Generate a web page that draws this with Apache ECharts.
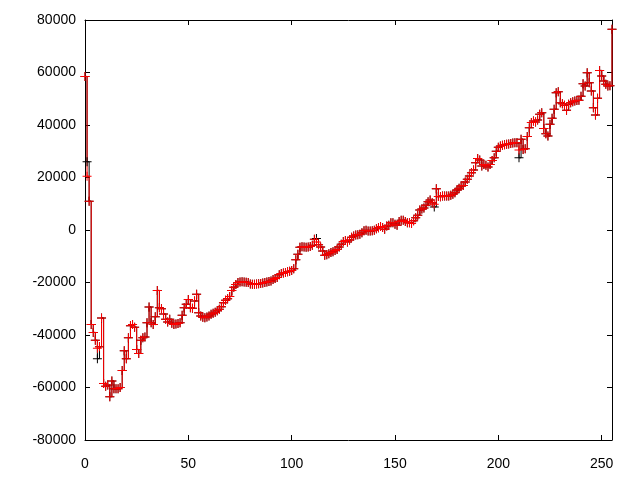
<!DOCTYPE html>
<html>
<head>
<meta charset="utf-8">
<script src="https://cdn.jsdelivr.net/npm/echarts@6/dist/echarts.min.js"></script>
<style>
  html, body { margin: 0; padding: 0; background: #fff; }
  #chart { width: 640px; height: 480px; }
</style>
</head>
<body>
<div id="chart"></div>
<script>
// values, index = x position (0..255)
const blackValues = [
  58500, 26000, 11000, -36000, -39000, -42000, -49000, -44500, -33500, -58500, -59500, -59000, -63500, -57500, -60500, -60500,
  -60500, -60000, -53500, -46000, -49000, -41000, -36500, -36000, -37000, -45500, -47000, -42000, -41000, -40800, -35300, -29300,
  -35300, -36000, -33000, -23000, -29600, -30000, -32000, -34000, -35000, -34000, -35500, -36000, -35800, -35600, -35300, -32500,
  -29600, -28300, -26500, -29600, -29800, -27000, -24500, -31500, -32800, -33200, -33400, -33100, -32800, -32100, -31700, -31300,
  -30800, -30200, -29200, -27700, -26800, -26200, -25300, -23000, -21800, -20800, -20000, -19800, -19700, -19800, -19900, -20000,
  -20600, -20700, -20700, -20600, -20500, -20400, -20200, -20000, -19800, -19600, -19400, -18900, -18500, -18100, -17000, -16600,
  -16400, -16200, -15900, -15700, -15400, -14800, -11300, -9200, -6600, -6400, -6500, -6600, -6500, -6300, -5800, -3500,
  -3200, -5600, -6500, -8000, -9600, -9400, -9000, -8600, -8300, -7800, -7400, -6500, -5400, -4400, -4000, -4600,
  -3800, -2800, -2300, -1900, -1800, -1600, -1000, -300, -100, -400, -400, -300, -100, 500, 900, 1300,
  1000, 300, 1500, 1800, 2800, 2800, 2200, 1800, 3200, 3700, 3700, 3200, 2800, 2800, 2500, 3500,
  4700, 5600, 7600, 8000, 8400, 9400, 10800, 11400, 10400, 8800, 15700, 12800, 12700, 13000, 13000, 13000,
  13000, 13200, 13600, 14200, 15200, 15900, 16800, 17000, 18300, 19300, 20600, 21800, 22900, 25600, 27200, 26700,
  24400, 25000, 24700, 24000, 25000, 26500, 27500, 30000, 31500, 32000, 32300, 32500, 32700, 32800, 33000, 33100,
  33200, 33200, 27500, 34600, 30700, 31000, 35600, 39000, 41000, 41500, 41100, 41900, 44100, 44700, 38700, 36700,
  35800, 40300, 42600, 46000, 52300, 52700, 48500, 48100, 47500, 45600, 47900, 48500, 48900, 49100, 49300, 49400,
  51000, 55700, 54900, 59900, 56100, 53000, 46600, 43800, 50200, 60800, 58700, 56800, 55500, 54900, 55000, 76500
]
const redValues = [
  58500, 20500, 11000, -36000, -39000, -42000, -45000, -44500, -33500, -58500, -59500, -59000, -63500, -57500, -60500, -60500,
  -60500, -60000, -53500, -46000, -49000, -41000, -36500, -36000, -37000, -45500, -47000, -42000, -41000, -40800, -35300, -29300,
  -35300, -36000, -33000, -23000, -29600, -30000, -32000, -34000, -35000, -34000, -35500, -36000, -35800, -35600, -35300, -32500,
  -29600, -28300, -26500, -29600, -29800, -27000, -24500, -31500, -32800, -33200, -33400, -33100, -32800, -32100, -31700, -31300,
  -30800, -30200, -29200, -27700, -26800, -26200, -25300, -23000, -21800, -20800, -20000, -19800, -19700, -19800, -19900, -20000,
  -20600, -20700, -20700, -20600, -20500, -20400, -20200, -20000, -19800, -19600, -19400, -18900, -18500, -18100, -17000, -16600,
  -16400, -16200, -15900, -15700, -15400, -14800, -11300, -9200, -6600, -6400, -6500, -6600, -6500, -6300, -5800, -3500,
  -4600, -5600, -6500, -8000, -9600, -9400, -9000, -8600, -8300, -7800, -7400, -6500, -5400, -4400, -4000, -4600,
  -3800, -2800, -2300, -1900, -1800, -1600, -1000, -300, -100, -400, -400, -300, -100, 500, 900, 1300,
  1000, 300, 1500, 1800, 2800, 2800, 2200, 1800, 3200, 3700, 3700, 3200, 2800, 2800, 2500, 3500,
  4700, 5600, 7600, 8000, 8400, 9400, 10800, 11400, 10400, 9800, 15700, 12800, 12700, 13000, 13000, 13000,
  13000, 13200, 13600, 14200, 15200, 15900, 16800, 17000, 18300, 19300, 20600, 21800, 22900, 25600, 27200, 26700,
  24400, 25000, 24700, 24000, 25000, 26500, 27500, 30000, 31500, 32000, 32300, 32500, 32700, 32800, 33000, 33100,
  33200, 33200, 30500, 34600, 30700, 31000, 35600, 39000, 41000, 41500, 41100, 41900, 44100, 44700, 38700, 36700,
  35800, 40300, 42600, 46000, 52300, 52700, 48500, 48100, 47500, 45600, 47900, 48500, 48900, 49100, 49300, 49400,
  51000, 55700, 54900, 59900, 56100, 53000, 46600, 43800, 50200, 60800, 58700, 56800, 55500, 54900, 55000, 76500
]
const xMin = 0
const xMax = 255
const yMin = -80000
const yMax = 80000

const plusSymbol = 'path://M0,4h9v1H0zM4,0h1v9H4z'
const font = 'Liberation Sans'

function axisBase (show, margin) {
  return {
    axisLine: { show: true, onZero: false, lineStyle: { color: '#000', width: 1 } },
    axisTick: { show: true, inside: true, length: 5, lineStyle: { color: '#000' } },
    axisLabel: {
      show: show,
      color: '#000',
      fontFamily: font,
      fontSize: 14,
      margin: margin,
      formatter: v => String(v)
    },
    splitLine: { show: false }
  }
}

function makeSeries (name, values, color) {
  return {
    name: name,
    type: 'line',
    step: 'end',
    data: values.map((v, i) => [i, v]),
    symbol: plusSymbol,
    symbolSize: 9,
    showAllSymbol: true,
    animation: false,
    lineStyle: { color: color, width: 1 },
    itemStyle: { color: color }
  }
}

const chart = echarts.init(document.getElementById('chart'))
chart.setOption({
  backgroundColor: '#fff',
  animation: false,
  grid: { left: 85, right: 28, top: 20, bottom: 40 },
  xAxis: [
    Object.assign(axisBase(true, 17), { type: 'value', position: 'bottom', min: xMin, max: xMax, interval: 50 }),
    Object.assign(axisBase(false, 8), { type: 'value', position: 'top', min: xMin, max: xMax, interval: 50 })
  ],
  yAxis: [
    Object.assign(axisBase(true, 9), { type: 'value', position: 'left', min: yMin, max: yMax, interval: 20000 }),
    Object.assign(axisBase(false, 8), { type: 'value', position: 'right', min: yMin, max: yMax, interval: 20000 })
  ],
  series: [
    makeSeries('black', blackValues, '#000000'),
    makeSeries('red', redValues, '#ff0000')
  ]
})
</script>
</body>
</html>
